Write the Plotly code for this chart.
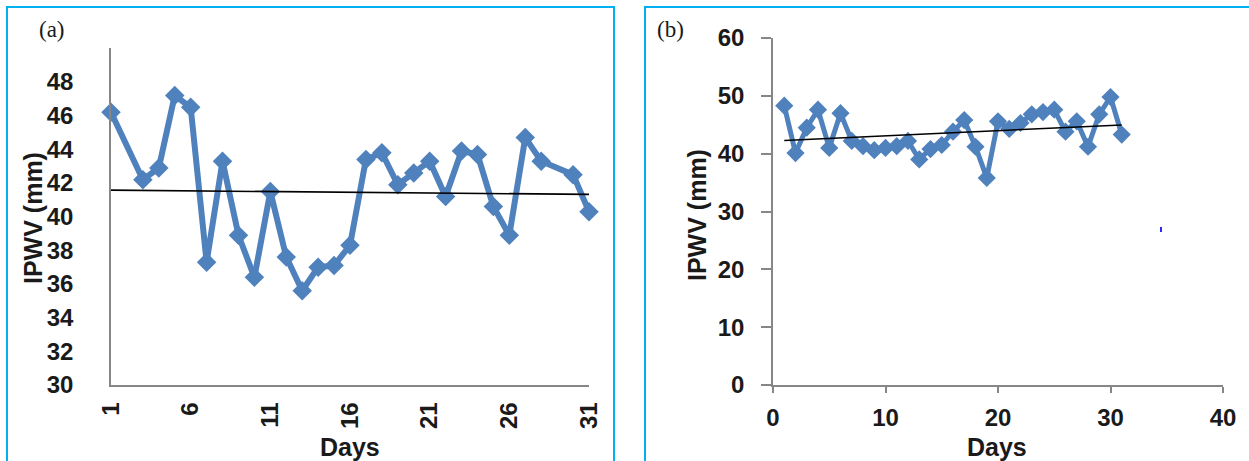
import numpy as np
import plotly.graph_objects as go

# ---- data -------------------------------------------------------------
# Panel (a): daily IPWV (mm); days 2 and 29 have no record
days_a = [1, 3, 4, 5, 6, 7, 8, 9, 10, 11, 12, 13, 14, 15, 16, 17, 18, 19, 20,
          21, 22, 23, 24, 25, 26, 27, 28, 30, 31]
ipwv_a = [46.2, 42.2, 42.9, 47.2, 46.5, 37.3, 43.3, 38.9, 36.4, 41.5, 37.6,
          35.6, 37.0, 37.1, 38.3, 43.4, 43.8, 41.9, 42.6, 43.3, 41.2, 43.9,
          43.7, 40.6, 38.9, 44.7, 43.3, 42.5, 40.3]

# Panel (b): daily IPWV (mm)
days_b = list(range(1, 32))
ipwv_b = [48.3, 40.1, 44.5, 47.6, 41.0, 47.0, 42.2, 41.3, 40.6, 41.0, 41.3,
          42.2, 39.0, 40.8, 41.5, 43.8, 45.8, 41.2, 35.8, 45.6, 44.3, 45.3,
          46.8, 47.2, 47.6, 43.8, 45.6, 41.2, 46.8, 49.8, 43.3]

ticks_a_x = [1, 6, 11, 16, 21, 26, 31]
ticks_a_y = [30, 32, 34, 36, 38, 40, 42, 44, 46, 48]
ticks_b_x = [0, 10, 20, 30, 40]
ticks_b_y = [0, 10, 20, 30, 40, 50, 60]

# ---- styling ----------------------------------------------------------
W, H = 1249, 461
SERIES = "#4F81BD"
FRAME = "#00B0F0"
AXIS = "#868686"
TXT = "#1a1a1a"
FONT = "Liberation Sans, Arial, sans-serif"


def px(x):
    return x / W


def py(y):
    return 1 - y / H


def linear_trend(x, y):
    k, b = np.polyfit(np.asarray(x, float), np.asarray(y, float), 1)
    xs = np.array([min(x), max(x)], float)
    return xs, k * xs + b


fig = go.Figure()

fig.add_trace(go.Scatter(
    x=days_a, y=ipwv_a, mode="lines+markers", xaxis="x", yaxis="y",
    line=dict(color=SERIES, width=6),
    marker=dict(symbol="diamond", size=15, color=SERIES),
    showlegend=False, cliponaxis=False))
tx, ty = linear_trend(days_a, ipwv_a)
fig.add_trace(go.Scatter(
    x=tx, y=ty, mode="lines", xaxis="x", yaxis="y",
    line=dict(color="black", width=1.6), showlegend=False))

fig.add_trace(go.Scatter(
    x=days_b, y=ipwv_b, mode="lines+markers", xaxis="x2", yaxis="y2",
    line=dict(color=SERIES, width=5),
    marker=dict(symbol="diamond", size=14, color=SERIES),
    showlegend=False, cliponaxis=False))
tx, ty = linear_trend(days_b, ipwv_b)
fig.add_trace(go.Scatter(
    x=tx, y=ty, mode="lines", xaxis="x2", yaxis="y2",
    line=dict(color="black", width=1.6), showlegend=False))

tick_font = dict(family=FONT, size=24, color=TXT, weight="bold")
title_font = dict(family=FONT, size=25, color=TXT, weight="bold")

common = dict(showgrid=False, zeroline=False, showline=True, automargin=False,
              linecolor=AXIS, linewidth=1.5, tickfont=tick_font)

fig.update_layout(
    width=W, height=H, autosize=False,
    margin=dict(l=0, r=0, t=0, b=0, pad=0, autoexpand=False),
    paper_bgcolor="white", plot_bgcolor="white",
    xaxis=dict(domain=[px(111), px(589)], range=[1, 31], anchor="y",
               tickvals=ticks_a_x, tickangle=-90, ticks="",
               ticklabelstandoff=6, **common),
    yaxis=dict(domain=[py(385), py(48.4)], range=[30, 50], anchor="x",
               tickvals=ticks_a_y, ticks="", ticklabelstandoff=31, **common),
    xaxis2=dict(domain=[px(773), px(1223)], range=[0, 40], anchor="y2",
                tickvals=ticks_b_x, ticks="outside", ticklen=6,
                tickcolor=AXIS, tickwidth=1.5, ticklabelstandoff=4, **common),
    yaxis2=dict(domain=[py(385), py(38)], range=[0, 60], anchor="x2",
                tickvals=ticks_b_y, ticks="outside", ticklen=10,
                tickcolor=AXIS, tickwidth=1.5, ticklabelstandoff=12, **common),
)

# axis titles and panel letters
ann = [
    dict(text="Days", x=px(350), y=py(447)),
    dict(text="Days", x=px(997), y=py(447)),
    dict(text="IPWV (mm)", x=px(33), y=py(218), textangle=-90),
    dict(text="IPWV (mm)", x=px(697), y=py(215), textangle=-90),
]
for a in ann:
    fig.add_annotation(xref="paper", yref="paper", showarrow=False,
                       xanchor="center", yanchor="middle",
                       font=title_font, **a)
for label, x in (("(a)", 52), ("(b)", 670)):
    fig.add_annotation(text=label, xref="paper", yref="paper",
                       x=px(x), y=py(30), showarrow=False,
                       xanchor="center", yanchor="middle",
                       font=dict(family="Liberation Serif, Times New Roman, serif",
                                 size=23, color=TXT))

# panel frames
fig.add_shape(type="rect", xref="paper", yref="paper",
              x0=px(7), x1=px(614), y0=-0.1, y1=py(7),
              line=dict(color=FRAME, width=2), fillcolor="rgba(0,0,0,0)")
fig.add_shape(type="rect", xref="paper", yref="paper",
              x0=px(645), x1=1.1, y0=-0.1, y1=py(7),
              line=dict(color=FRAME, width=2), fillcolor="rgba(0,0,0,0)")
# small stray blue tick in panel (b)
fig.add_shape(type="rect", xref="paper", yref="paper",
              x0=px(1160), x1=px(1162), y0=py(232), y1=py(227),
              line=dict(width=0), fillcolor="#2a2aff")

fig.write_html("out.html")
